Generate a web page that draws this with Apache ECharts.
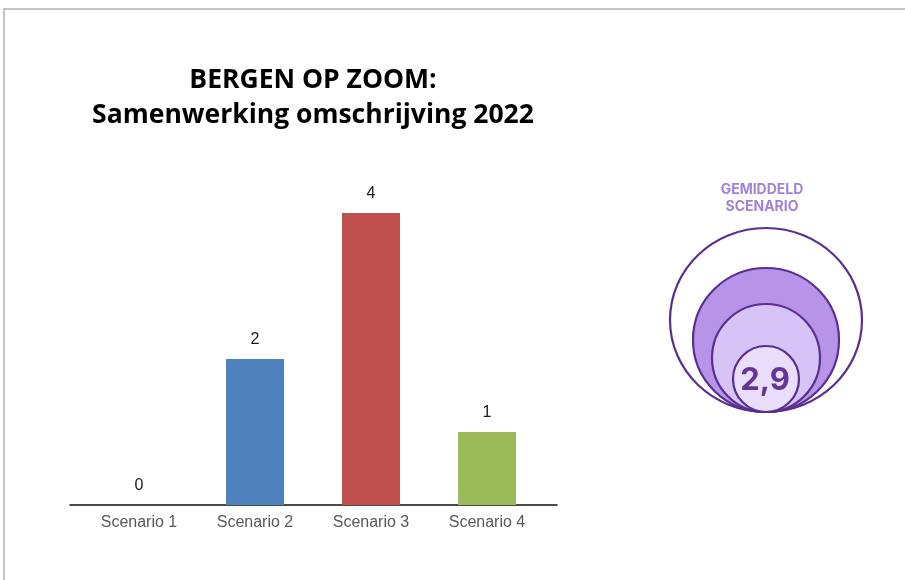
<!DOCTYPE html>
<html>
<head>
<meta charset="utf-8">
<script src="https://cdn.jsdelivr.net/npm/echarts@6/dist/echarts.min.js"></script>
<style>
  html, body { margin: 0; padding: 0; background: #ffffff; }
  #frame { position: absolute; left: 3px; top: 8px; width: 910px; height: 580px;
           border-top: 2px solid #c3c3c3; border-left: 2px solid #c3c3c3; }
  #chart { position: absolute; left: 0; top: 0; width: 905px; height: 580px; }
</style>
</head>
<body>
<div id="frame"></div>
<div id="chart"></div>
<script>
const titleLines = ['BERGEN OP ZOOM:', 'Samenwerking omschrijving 2022'];
const categories = ['Scenario 1', 'Scenario 2', 'Scenario 3', 'Scenario 4'];
const values = [0, 2, 4, 1];
const barColors = ['#4f81bd', '#4f81bd', '#c0504d', '#9bbb59'];
const averageLabel = ['GEMIDDELD', 'SCENARIO'];
const averageValue = '2,9';

const chart = echarts.init(document.getElementById('chart'), null, { renderer: 'canvas' });

// concentric decorative circles, all tangent at bottom
const baseY = 412, cx = 766;
const rings = [
  { rx: 96, ry: 92, fill: '#ffffff' },
  { rx: 73, ry: 72, fill: '#b894e8' },
  { rx: 54, ry: 54, fill: '#d8c3f6' },
  { rx: 33, ry: 33, fill: '#ebdefc' }
];
const ringGraphics = rings.map((r, i) => ({
  type: 'ellipse',
  shape: { cx: cx, cy: baseY - r.ry, rx: r.rx, ry: r.ry },
  style: { fill: r.fill, stroke: '#5a2f90', lineWidth: 2.2 },
  z: 10 + i
}));

chart.setOption({
  animation: false,
  grid: [
    { left: 81, right: 360, top: 213, bottom: 75 },
    { left: 70, right: 348, top: 213, bottom: 75 }
  ],
  xAxis: [
    {
      type: 'category', gridIndex: 0, data: categories,
      axisLine: { show: false }, axisTick: { show: false },
      axisLabel: { color: '#595959', fontSize: 16, fontFamily: 'Liberation Sans, Arial, sans-serif', margin: 10 }
    },
    {
      type: 'value', gridIndex: 1, min: 0, max: 1,
      axisLine: { show: true, onZero: false, lineStyle: { color: '#111111', width: 1.5 } },
      axisTick: { show: false }, axisLabel: { show: false }, splitLine: { show: false }
    }
  ],
  yAxis: [
    { type: 'value', gridIndex: 0, min: 0, max: 4, show: false, splitLine: { show: false } },
    { type: 'value', gridIndex: 1, min: 0, max: 1, show: false, splitLine: { show: false } }
  ],
  series: [
    {
      type: 'bar', xAxisIndex: 0, yAxisIndex: 0, barWidth: '50%',
      data: values.map((v, i) => ({ value: v, itemStyle: { color: barColors[i] } })),
      label: { show: true, position: 'top', distance: 11, color: '#1a1a1a', fontSize: 16,
               fontFamily: 'Liberation Sans, Arial, sans-serif' }
    },
    { type: 'line', xAxisIndex: 1, yAxisIndex: 1, data: [], showSymbol: false }
  ],
  graphic: [
    {
      type: 'text', x: 313, y: 80,
      style: { text: titleLines[0], fill: '#000000', fontSize: 26.5, fontWeight: 'bold',
               fontFamily: 'Open Sans, sans-serif', textAlign: 'center', textVerticalAlign: 'middle' }
    },
    {
      type: 'text', x: 313, y: 115,
      style: { text: titleLines[1], fill: '#000000', fontSize: 26.5, fontWeight: 'bold',
               fontFamily: 'Open Sans, sans-serif', textAlign: 'center', textVerticalAlign: 'middle' }
    },
    {
      type: 'text', x: 762, y: 190,
      style: { text: averageLabel[0], fill: '#a183d6', fontSize: 14, fontWeight: 'bold',
               fontFamily: 'Inter, sans-serif', textAlign: 'center', textVerticalAlign: 'middle' }
    },
    {
      type: 'text', x: 762, y: 207,
      style: { text: averageLabel[1], fill: '#a183d6', fontSize: 14, fontWeight: 'bold',
               fontFamily: 'Inter, sans-serif', textAlign: 'center', textVerticalAlign: 'middle' }
    },
    ...ringGraphics,
    {
      type: 'text', x: 765, y: 381, z: 20,
      style: { text: averageValue, fill: '#62379a', fontSize: 31, fontWeight: 'bold',
               fontFamily: 'Inter, sans-serif', textAlign: 'center', textVerticalAlign: 'middle' }
    }
  ]
});
</script>
</body>
</html>
